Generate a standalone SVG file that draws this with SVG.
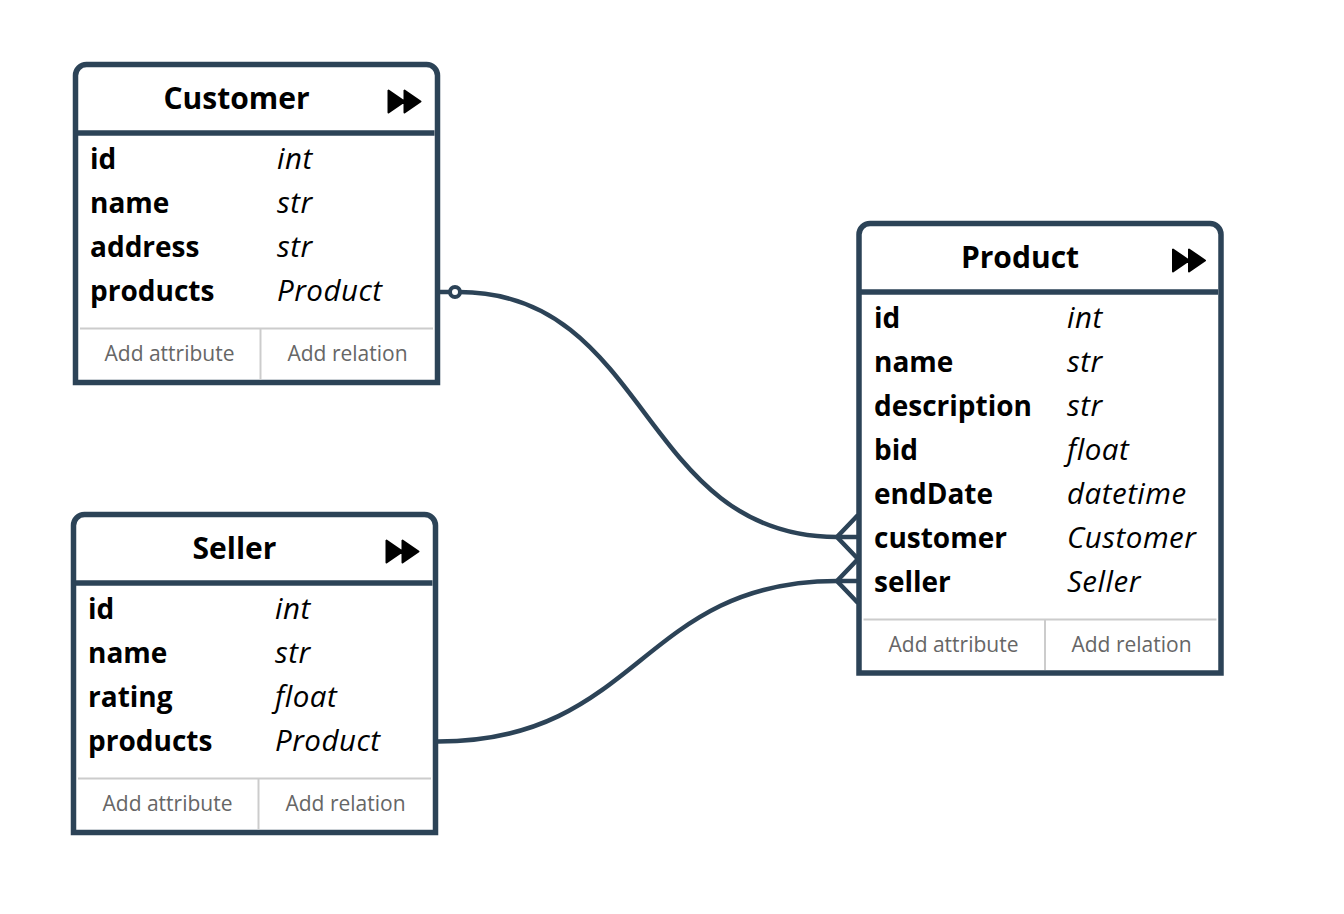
<svg xmlns="http://www.w3.org/2000/svg" width="1344" height="914" viewBox="0 0 1344 914">
<style>
.box{fill:#fff;stroke:#2c4357;stroke-width:5.5}
.hdr{stroke:#2c4357;stroke-width:5.5}
.sep{stroke:#cccccc;stroke-width:2}
.title{font-family:"Open Sans",sans-serif;font-weight:700;font-size:30px;fill:#000;text-anchor:middle}
.nm{font-family:"Open Sans",sans-serif;font-weight:700;font-size:28px;fill:#000}
.ty{font-family:"Open Sans",sans-serif;font-style:italic;font-size:29.5px;letter-spacing:0.5px;fill:#000}
.ft{font-family:"Open Sans",sans-serif;font-size:21px;fill:#666;text-anchor:middle}
.ico{fill:#000;stroke:#000;stroke-width:2;stroke-linejoin:round}
.con{fill:none;stroke:#2c4357;stroke-width:4.5}
</style>
<rect width="1344" height="914" fill="#fff"/>
<g id="connectors">
<line class="con" x1="440" y1="292" x2="451" y2="292"/>
<path class="con" d="M459,292 C650,292 640,537 837,537 L858,537"/>
<path class="con" d="M858,515 L837,537 L858,559"/>
<circle cx="455" cy="292" r="5" fill="#fff" stroke="#2c4357" stroke-width="4"/>
<path class="con" d="M438,741.5 C640,741.5 640,581 837,581 L858,581"/>
<path class="con" d="M858,559 L837,581 L858,603"/>
</g>
<g id="customer" transform="translate(75.5,64.5)">
<path class="box" d="M0,318 V11 A11,11 0 0 1 11,0 H351 A11,11 0 0 1 362,11 V318 Z"/>
<line class="hdr" x1="2" y1="68.5" x2="359" y2="68.5"/>
<text class="title" x="161" y="44.5">Customer</text>
<path class="ico" d="M313,26 L313,48 L329,37 Z M329,26 L329,48 L345,37 Z"/>
<text class="nm" x="14.5" y="104.5">id</text><text class="ty" x="201.5" y="104.5">int</text>
<text class="nm" x="14.5" y="148.5">name</text><text class="ty" x="201.5" y="148.5">str</text>
<text class="nm" x="14.5" y="192.5">address</text><text class="ty" x="201.5" y="192.5">str</text>
<text class="nm" x="14.5" y="236.5">products</text><text class="ty" x="201.5" y="236.5">Product</text>
<line class="sep" x1="4.5" y1="264" x2="357.5" y2="264"/>
<line class="sep" x1="185" y1="264" x2="185" y2="315"/>
<text class="ft" x="94" y="296.5">Add attribute</text>
<text class="ft" x="272" y="296.5">Add relation</text>
</g>
<g id="seller" transform="translate(73.5,514.5)">
<path class="box" d="M0,318 V11 A11,11 0 0 1 11,0 H351 A11,11 0 0 1 362,11 V318 Z"/>
<line class="hdr" x1="2" y1="68.5" x2="359" y2="68.5"/>
<text class="title" x="161" y="44.5">Seller</text>
<path class="ico" d="M313,26 L313,48 L329,37 Z M329,26 L329,48 L345,37 Z"/>
<text class="nm" x="14.5" y="104.5">id</text><text class="ty" x="201.5" y="104.5">int</text>
<text class="nm" x="14.5" y="148.5">name</text><text class="ty" x="201.5" y="148.5">str</text>
<text class="nm" x="14.5" y="192.5">rating</text><text class="ty" x="201.5" y="192.5">float</text>
<text class="nm" x="14.5" y="236.5">products</text><text class="ty" x="201.5" y="236.5">Product</text>
<line class="sep" x1="4.5" y1="264" x2="357.5" y2="264"/>
<line class="sep" x1="185" y1="264" x2="185" y2="315"/>
<text class="ft" x="94" y="296.5">Add attribute</text>
<text class="ft" x="272" y="296.5">Add relation</text>
</g>
<g id="product" transform="translate(859,223.5)">
<path class="box" d="M0,449.5 V11 A11,11 0 0 1 11,0 H351 A11,11 0 0 1 362,11 V449.5 Z"/>
<line class="hdr" x1="2" y1="68.5" x2="359" y2="68.5"/>
<text class="title" x="161" y="44.5">Product</text>
<path class="ico" d="M314,26 L314,48 L330,37 Z M330,26 L330,48 L346,37 Z"/>
<text class="nm" x="15" y="104.5">id</text><text class="ty" x="208" y="104.5">int</text>
<text class="nm" x="15" y="148.5">name</text><text class="ty" x="208" y="148.5">str</text>
<text class="nm" x="15" y="192.5">description</text><text class="ty" x="208" y="192.5">str</text>
<text class="nm" x="15" y="236.5">bid</text><text class="ty" x="208" y="236.5">float</text>
<text class="nm" x="15" y="280.5">endDate</text><text class="ty" x="208" y="280.5">datetime</text>
<text class="nm" x="15" y="324.5">customer</text><text class="ty" x="208" y="324.5">Customer</text>
<text class="nm" x="15" y="368.5">seller</text><text class="ty" x="208" y="368.5">Seller</text>
<line class="sep" x1="4.5" y1="396" x2="357.5" y2="396"/>
<line class="sep" x1="186" y1="396" x2="186" y2="446.5"/>
<text class="ft" x="94.5" y="428.5">Add attribute</text>
<text class="ft" x="272.5" y="428.5">Add relation</text>
</g>
</svg>
